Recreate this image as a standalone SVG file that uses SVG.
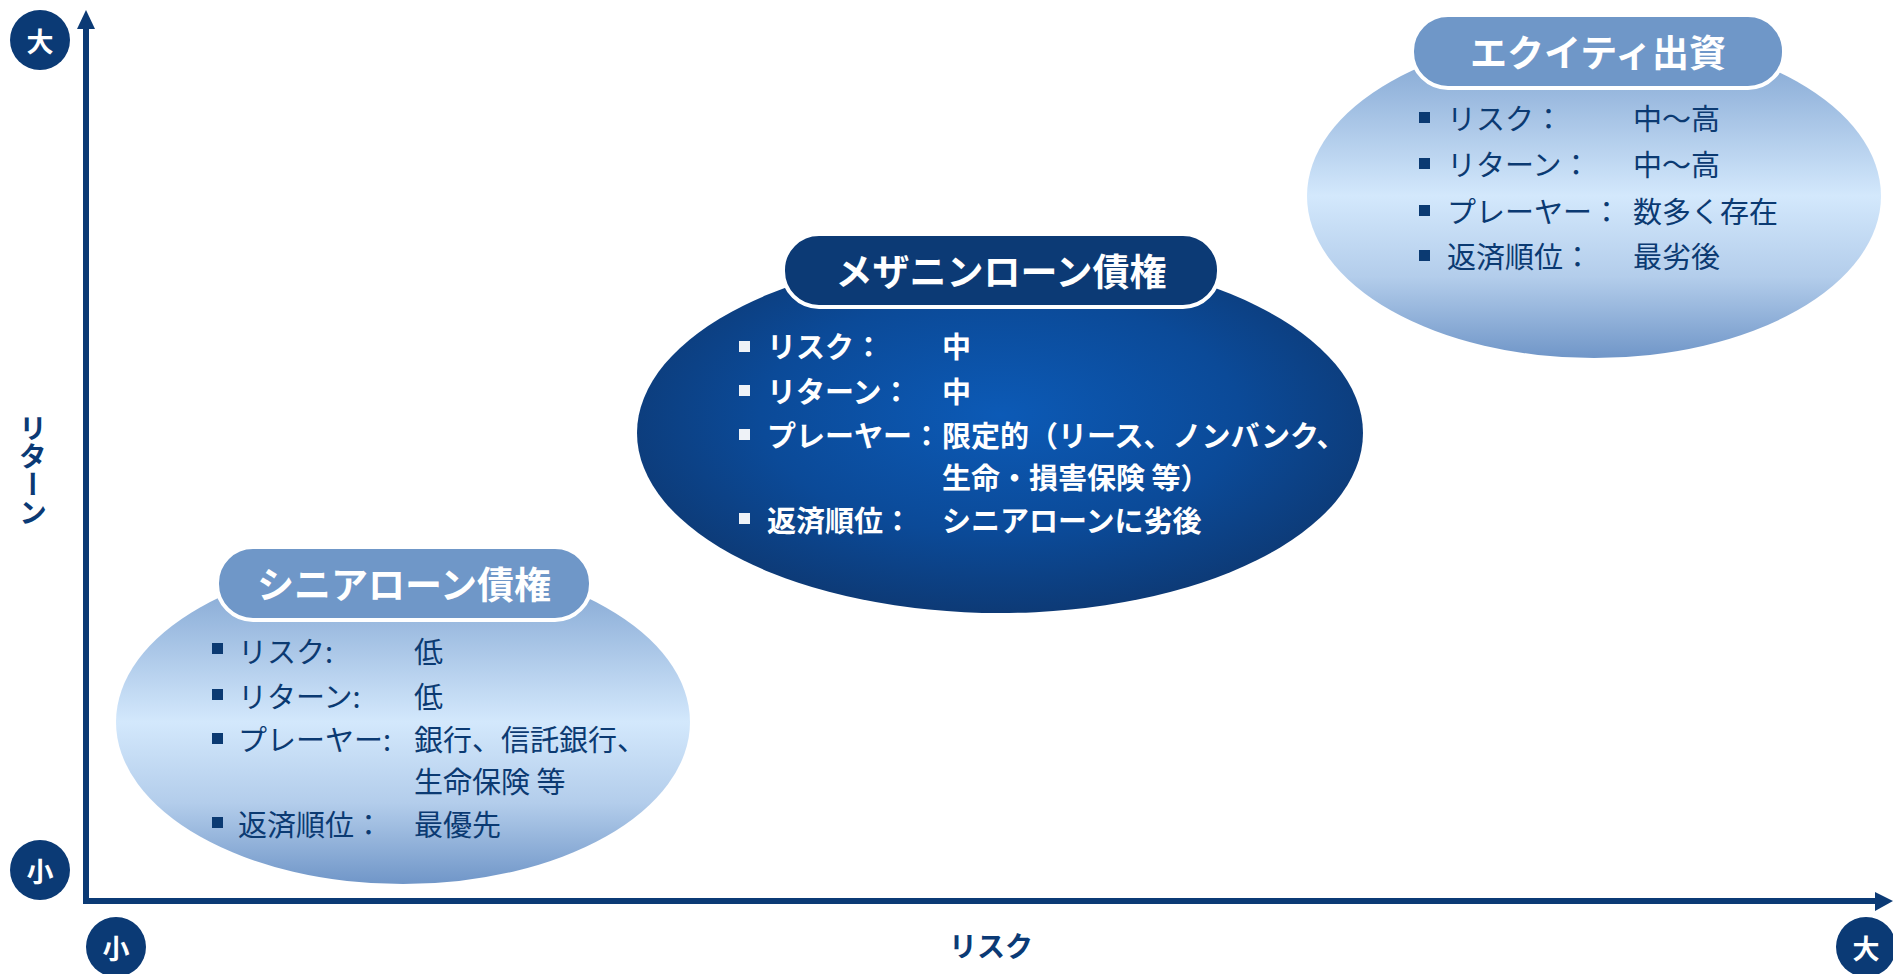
<svg xmlns="http://www.w3.org/2000/svg" width="1893" height="974" viewBox="0 0 1893 974">
<defs>
<linearGradient id="lightGrad" x1="0" y1="0" x2="0" y2="1">
<stop offset="0" stop-color="#7a9fcd"/>
<stop offset="0.2" stop-color="#9cbbe0"/>
<stop offset="0.5" stop-color="#d3e8fc"/>
<stop offset="0.75" stop-color="#b3cdeb"/>
<stop offset="1" stop-color="#7096c8"/>
</linearGradient>
<radialGradient id="darkGrad" cx="0.5" cy="0.45" r="0.55">
<stop offset="0" stop-color="#0c5ab6"/>
<stop offset="0.6" stop-color="#0b4a98"/>
<stop offset="1" stop-color="#0d3a76"/>
</radialGradient>
</defs>
<style>
.jp{font-family:"Noto Sans CJK JP","Noto Sans CJK SC",sans-serif;}
.axis{stroke:#0b3a75;stroke-width:6;fill:none;}
.arrow{fill:#0b3a75;}
.badge{fill:#0b3a75;}
.badgeTxt{fill:#ffffff;font-size:27px;font-weight:700;text-anchor:middle;dominant-baseline:central;}
.axisLbl{fill:#0b3a75;font-size:28px;font-weight:700;text-anchor:middle;dominant-baseline:central;}
.hdrLight{fill:#6f97c8;stroke:#ffffff;stroke-width:4;}
.hdrDark{fill:#0c3a75;stroke:#ffffff;stroke-width:4;}
.hdrTxt{fill:#ffffff;font-size:37px;font-weight:700;text-anchor:middle;dominant-baseline:central;}
.rowL{fill:#0b3a72;font-size:29px;dominant-baseline:central;}
.rowD{fill:#ffffff;font-size:29px;font-weight:700;dominant-baseline:central;}
.bulL{fill:#0b3a72;}
.bulD{fill:#eef2f7;}
</style>

<g id="connectors">
<line class="axis" x1="86" y1="904" x2="86" y2="28"/>
<polygon class="arrow" points="77,29 95,29 86,10"/>
<line class="axis" x1="83" y1="901" x2="1876" y2="901"/>
<polygon class="arrow" points="1875,892 1875,911 1893,901"/>
</g>

<g id="axis-labels">
<circle class="badge" cx="40" cy="40" r="30"/>
<text class="jp badgeTxt" x="40" y="40">大</text>
<circle class="badge" cx="40" cy="870" r="30"/>
<text class="jp badgeTxt" x="40" y="870">小</text>
<circle class="badge" cx="116" cy="947" r="30"/>
<text class="jp badgeTxt" x="116" y="947">小</text>
<circle class="badge" cx="1866" cy="947" r="30"/>
<text class="jp badgeTxt" x="1866" y="947">大</text>
<text class="jp axisLbl" x="991" y="945">リスク</text>
<text class="jp axisLbl" x="33" y="470" writing-mode="vertical-rl" style="dominant-baseline:auto">リターン</text>
</g>

<g id="senior">
<ellipse cx="403" cy="722" rx="287" ry="162" fill="url(#lightGrad)"/>
<rect class="hdrLight" x="217" y="547" width="374" height="73" rx="36"/>
<text class="jp hdrTxt" x="404" y="583">シニアローン債権</text>
<rect class="bulL" x="212" y="643" width="11" height="11"/>
<text class="jp rowL" x="238" y="650">リスク:</text>
<text class="jp rowL" x="414" y="650">低</text>
<rect class="bulL" x="212" y="689" width="11" height="11"/>
<text class="jp rowL" x="238" y="695">リターン:</text>
<text class="jp rowL" x="414" y="695">低</text>
<rect class="bulL" x="212" y="733" width="11" height="11"/>
<text class="jp rowL" x="238" y="738">プレーヤー:</text>
<text class="jp rowL" x="414" y="738">銀行、信託銀行、</text>
<text class="jp rowL" x="414" y="780">生命保険 等</text>
<rect class="bulL" x="212" y="817" width="11" height="11"/>
<text class="jp rowL" x="238" y="823">返済順位：</text>
<text class="jp rowL" x="414" y="823">最優先</text>
</g>

<g id="mezzanine">
<ellipse cx="1000" cy="433" rx="363" ry="180" fill="url(#darkGrad)"/>
<rect class="hdrDark" x="783" y="234" width="436" height="73" rx="36"/>
<text class="jp hdrTxt" x="1001" y="270">メザニンローン債権</text>
<rect class="bulD" x="739" y="341" width="11" height="11"/>
<text class="jp rowD" x="767" y="345">リスク：</text>
<text class="jp rowD" x="942" y="345">中</text>
<rect class="bulD" x="739" y="385" width="11" height="11"/>
<text class="jp rowD" x="767" y="390">リターン：</text>
<text class="jp rowD" x="942" y="390">中</text>
<rect class="bulD" x="739" y="429" width="11" height="11"/>
<text class="jp rowD" x="767" y="434">プレーヤー：</text>
<text class="jp rowD" x="942" y="434">限定的（リース、ノンバンク、</text>
<text class="jp rowD" x="942" y="476">生命・損害保険 等）</text>
<rect class="bulD" x="739" y="513" width="11" height="11"/>
<text class="jp rowD" x="767" y="519">返済順位：</text>
<text class="jp rowD" x="942" y="519">シニアローンに劣後</text>
</g>

<g id="equity">
<ellipse cx="1594" cy="196" rx="287" ry="162" fill="url(#lightGrad)"/>
<rect class="hdrLight" x="1412" y="15" width="372" height="73" rx="36"/>
<text class="jp hdrTxt" x="1598" y="51">エクイティ出資</text>
<rect class="bulL" x="1419" y="112" width="11" height="11"/>
<text class="jp rowL" x="1447" y="117">リスク：</text>
<text class="jp rowL" x="1633" y="117">中～高</text>
<rect class="bulL" x="1419" y="158" width="11" height="11"/>
<text class="jp rowL" x="1447" y="163">リターン：</text>
<text class="jp rowL" x="1633" y="163">中～高</text>
<rect class="bulL" x="1419" y="205" width="11" height="11"/>
<text class="jp rowL" x="1447" y="210">プレーヤー：</text>
<text class="jp rowL" x="1633" y="210">数多く存在</text>
<rect class="bulL" x="1419" y="250" width="11" height="11"/>
<text class="jp rowL" x="1447" y="255">返済順位：</text>
<text class="jp rowL" x="1633" y="255">最劣後</text>
</g>
</svg>
